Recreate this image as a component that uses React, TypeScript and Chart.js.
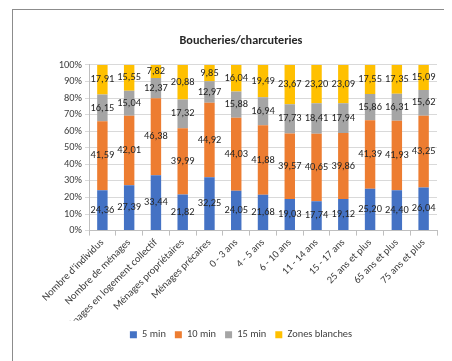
import React, { useEffect, useRef } from "react";
import { Chart, registerables } from "chart.js";

Chart.register(...registerables);

const categories = [
  "Nombre d'individus",
  "Nombre de ménages",
  "Ménages en logement collectif",
  "Ménages propriétaires",
  "Ménages précaires",
  "0 - 3 ans",
  "4 - 5 ans",
  "6 - 10 ans",
  "11 - 14 ans",
  "15 - 17 ans",
  "25 ans et plus",
  "65 ans et plus",
  "75 ans et plus",
];

const min5 = [24.36, 27.39, 33.44, 21.82, 32.25, 24.05, 21.68, 19.03, 17.74, 19.12, 25.2, 24.4, 26.04];
const min10 = [41.59, 42.01, 46.38, 39.99, 44.92, 44.03, 41.88, 39.57, 40.65, 39.86, 41.39, 41.93, 43.25];
const min15 = [16.15, 15.04, 12.37, 17.32, 12.97, 15.88, 16.94, 17.73, 18.41, 17.94, 15.86, 16.31, 15.62];
const zonesBlanches = [17.91, 15.55, 7.82, 20.88, 9.85, 16.04, 19.49, 23.67, 23.2, 23.09, 17.55, 17.35, 15.09];

const seriesNames = ["5 min", "10 min", "15 min", "Zones blanches"];
const seriesColors = ["#4472C4", "#ED7D31", "#A5A5A5", "#FFC000"];

const FONT = "Carlito, Lato, sans-serif";

const valueLabels = {
  id: "valueLabels",
  afterDatasetsDraw(chart: any) {
    const ctx = chart.ctx;
    ctx.save();
    ctx.font = `10.4px ${FONT}`;
    ctx.fillStyle = "#262626";
    ctx.textAlign = "center";
    ctx.textBaseline = "middle";
    chart.data.datasets.forEach((ds: any, i: number) => {
      const meta = chart.getDatasetMeta(i);
      meta.data.forEach((el: any, j: number) => {
        const v = ds.data[j];
        const y = (el.y + el.base) / 2;
        ctx.fillText(v.toFixed(2).replace(".", ","), el.x, y);
      });
    });
    ctx.restore();
  },
};

export default function App() {
  const ref = useRef<HTMLCanvasElement>(null);
  useEffect(() => {
    const datasets = [min5, min10, min15, zonesBlanches].map((d, i) => ({
      label: seriesNames[i],
      data: d,
      backgroundColor: seriesColors[i],
      borderWidth: 0,
      barPercentage: 0.78,
      categoryPercentage: 0.5,
    }));
    const chart = new Chart(ref.current!, {
      type: "bar",
      data: { labels: categories, datasets },
      options: {
        responsive: false,
        animation: false,
        layout: { padding: 0 },
        plugins: {
          title: {
            display: true,
            text: "Boucheries/charcuteries",
            color: "#262626",
            font: { family: FONT, size: 12.2, weight: "bold" },
            padding: { top: 23.5, bottom: 16.8 },
          },
          legend: {
            position: "bottom",
            labels: {
              boxWidth: 7,
              boxHeight: 7,
              padding: 9,
              color: "#404040",
              font: { family: FONT, size: 10.4 },
            },
          },
          tooltip: { enabled: false },
        },
        scales: {
          x: {
            stacked: true,
            grid: { drawOnChartArea: false, drawTicks: true, tickLength: 5, color: "#bfbfbf" },
            border: { color: "#bfbfbf" },
            ticks: {
              minRotation: 45,
              maxRotation: 45,
              autoSkip: false,
              color: "#404040",
              font: { family: FONT, size: 10.4 },
              padding: 1,
            },
            afterFit(scale: any) {
              scale.height = 90;
            },
          },
          y: {
            stacked: true,
            min: 0,
            max: 100,
            grid: { color: "#d9d9d9", tickLength: 4 },
            border: { color: "#bfbfbf" },
            ticks: {
              stepSize: 10,
              color: "#404040",
              font: { family: FONT, size: 10.4 },
              callback: (v: any) => v + "%",
            },
            afterFit(scale: any) {
              scale.width = 59;
            },
          },
          yRight: {
            type: "linear",
            position: "right",
            display: true,
            grid: { display: false },
            border: { display: false },
            ticks: { display: false },
            afterFit(scale: any) {
              scale.width = 15;
            },
          },
        },
      },
      plugins: [valueLabels],
    });
    return () => chart.destroy();
  }, []);

  return (
    <div style={{ position: "relative", width: 444, height: 353 }}>
      <div
        style={{
          position: "absolute",
          left: 4,
          top: 1,
          right: -10,
          bottom: -10,
          borderLeft: "1px solid #8c8c8c",
          borderTop: "1px solid #8c8c8c",
        }}
      />
      <canvas
        ref={ref}
        width={422}
        height={340}
        style={{ position: "absolute", left: 22, top: 2, width: 422, height: 340 }}
      />
    </div>
  );
}
